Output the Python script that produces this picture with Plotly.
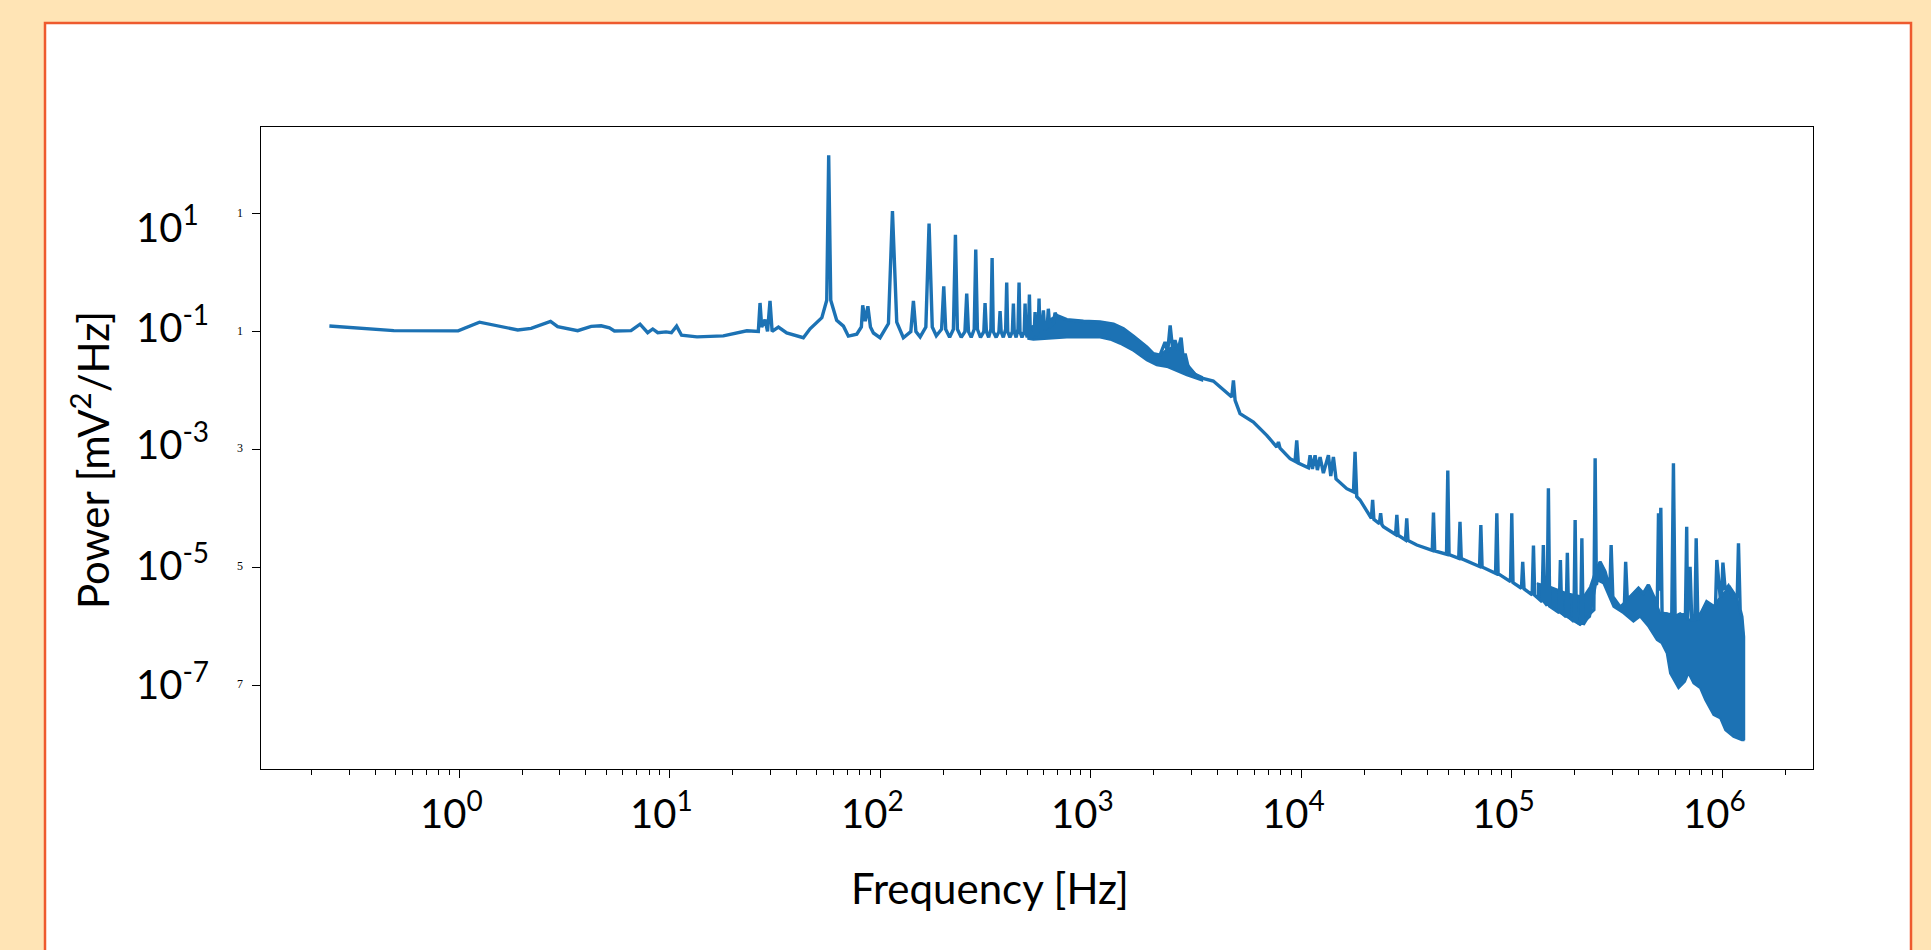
import plotly.graph_objects as go

# ---------------- data (frequency Hz, power mV^2/Hz) ----------------
low_pairs = [(0.242, 0.125), (0.49, 0.104), (0.99, 0.103), (1.25, 0.145), (1.90, 0.107), (2.2, 0.114),
             (2.72, 0.150), (2.94, 0.122), (3.66, 0.104), (4.24, 0.123), (4.73, 0.126), (5.18, 0.116),
             (5.47, 0.103), (6.56, 0.104), (7.24, 0.134), (7.87, 0.096), (8.32, 0.111), (8.79, 0.096),
             (9.62, 0.099), (10.2, 0.096), (10.8, 0.124), (11.4, 0.087), (13.5, 0.0815), (18.0, 0.085),
             (23.3, 0.1035), (26.4, 0.101), (26.9, 0.307), (27.4, 0.120), (28.4, 0.160), (29.2, 0.101),
             (30.0, 0.332), (30.7, 0.101), (32.9, 0.120), (36.0, 0.095), (43.2, 0.079), (46.5, 0.112),
             (52.9, 0.173), (55.8, 0.341), (57.0, 99.0), (58.3, 0.341), (62.2, 0.156), (67.0, 0.124),
             (70.7, 0.084), (77.5, 0.0905), (81.5, 0.12), (82.7, 0.281), (85.0, 0.15), (87.5, 0.27),
             (90.0, 0.12), (93.0, 0.095)]

harmonic_pairs = [(100, 0.079), (109.6, 0.137), (114.5, 11.2), (120, 0.145), (129, 0.079), (140, 0.10),
                  (144, 0.332), (148, 0.10), (155, 0.0815), (165, 0.12), (170.9, 6.82), (177, 0.12),
                  (185, 0.085), (196, 0.11), (200.7, 0.589), (205, 0.11), (214, 0.08), (223, 0.11),
                  (228, 4.43), (233, 0.11), (243, 0.08), (253, 0.10), (258, 0.443), (263, 0.10),
                  (271, 0.08), (280, 0.11), (284.8, 2.47), (290, 0.11), (300, 0.08), (311, 0.10),
                  (315.3, 0.307), (320, 0.10), (328, 0.08), (336, 0.11), (340.6, 1.78), (345, 0.10),
                  (356, 0.08), (367, 0.10), (371.6, 0.224), (376, 0.10), (385, 0.08), (395, 0.11),
                  (399.6, 0.681), (404, 0.10), (414, 0.08), (425, 0.10), (429.9, 0.299), (434, 0.10),
                  (443, 0.08), (452, 0.11), (457.4, 0.681), (462, 0.10), (472, 0.08), (484, 0.10),
                  (488.5, 0.299), (493, 0.10), (500, 0.08), (507, 0.11), (512.2, 0.426), (517, 0.10),
                  (527, 0.08), (540, 0.10), (544.9, 0.216), (550, 0.10), (557, 0.085), (564, 0.11),
                  (569.2, 0.364), (574, 0.11), (585, 0.11), (597, 0.23), (605, 0.11), (622, 0.12),
                  (630, 0.245), (640, 0.12), (668, 0.14), (678, 0.21), (688, 0.19)]

mid_pairs = [(771, 0.160), (925, 0.150), (1109, 0.146), (1285, 0.134), (1432, 0.112), (1600, 0.0836),
             (1849, 0.0550), (1986, 0.0424), (2138, 0.040), (2259, 0.0668), (2323, 0.0447), (2388, 0.128),
             (2455, 0.050), (2518, 0.0714), (2600, 0.0479), (2692, 0.0793), (2754, 0.0355), (2812, 0.0424),
             (2917, 0.024), (3162, 0.0182), (3311, 0.01656), (3828, 0.01455), (4436, 0.00946),
             (4685, 0.00778), (4771, 0.01493), (4860, 0.00684), (5129, 0.00406), (5936, 0.00293),
             (6871, 0.00174), (7668, 0.00110), (7806, 0.00134), (7943, 0.00105), (8865, 0.000698),
             (9365, 0.000631), (9537, 0.00143), (9705, 0.000589), (10834, 0.000490), (11036, 0.000798),
             (11320, 0.000468), (11654, 0.000798), (11955, 0.000447), (12311, 0.000746), (12764, 0.000398),
             (13487, 0.000798), (13836, 0.000355), (14243, 0.000746), (14660, 0.000316), (16482, 0.000216),
             (17742, 0.000191), (18049, 0.000912), (18390, 0.000158), (19055, 0.000139), (20137, 0.0001005),
             (21281, 0.0000723), (21580, 0.000068), (21878, 0.000139), (22180, 0.000065),
             (23550, 0.000055), (23878, 0.0000826), (24210, 0.000053), (24604, 0.0000489),
             (28120, 0.000036), (28510, 0.0000773), (28910, 0.000035),
             (31330, 0.000029), (31769, 0.0000679), (32210, 0.0000285), (35481, 0.0000239),
             (41980, 0.0000193), (42560, 0.0000845), (43150, 0.000019),
             (49090, 0.0000167), (49774, 0.000437), (50470, 0.0000164),
             (56100, 0.0000142), (56885, 0.0000594), (57680, 0.000014),
             (70470, 0.0000103), (71450, 0.0000522), (72440, 0.0000101),
             (83950, 0.0000079), (85114, 0.0000826), (86300, 0.0000078),
             (98850, 0.0000057), (100231, 0.0000826), (101600, 0.0000055),
             (111400, 0.0000044), (112980, 0.0000124), (114600, 0.0000043),
             (125300, 0.0000034), (127060, 0.0000233), (128800, 0.00000335),
             (139600, 0.0000026), (141580, 0.0000239), (143550, 0.00000255),
             (147570, 0.00000225), (149620, 0.000219), (151700, 0.0000022),
             (168300, 0.0000017), (170610, 0.0000133), (173000, 0.00000168),
             (181550, 0.00000145), (184080, 0.0000177), (186650, 0.00000144),
             (197700, 0.0000012), (200450, 0.0000635), (203240, 0.0000012),
             (212800, 0.00000107), (215770, 0.000031), (218800, 0.00000106),
             (236050, 0.00000166), (246000, 0.0000019)]

high_pairs = [(249460, 0.000708), (252900, 0.000005), (263030, 0.0000124), (277970, 0.0000084),
              (293100, 0.0000042), (297170, 0.0000239), (302690, 0.00000316), (327340, 0.00000214),
              (343600, 0.0000023), (348340, 0.0000124), (354810, 0.00000279), (400880, 0.0000044),
              (422670, 0.00000361), (446680, 0.000005), (480840, 0.00000279), (492000, 0.000002),
              (498890, 0.0000826), (505000, 0.000004), (511690, 0.0001026), (518800, 0.00000166),
              (576770, 0.00000155), (587490, 0.000583), (598400, 0.00000145), (669900, 0.0000016),
              (679200, 0.0000489), (685500, 0.00000127), (704700, 0.0000102), (717800, 0.00000127),
              (743000, 0.00000127), (753400, 0.000031), (767400, 0.00000127), (845300, 0.0000026),
              (916200, 0.00000214), (931100, 0.0000023), (944100, 0.0000133), (979500, 0.00000316),
              (995400, 0.0000033), (1009300, 0.000012), (1035000, 0.00000411), (1071500, 0.00000481),
              (1124600, 0.00000316), (1180400, 0.0000032), (1196700, 0.0000255), (1219000, 0.00000188),
              (1241700, 0.00000145), (1264700, 0.00000066), (1264700, 1.16e-8)]

# dense bands (upper / lower envelopes)
bandA_upper = [(501, 0.1175), (603, 0.141), (690, 0.190), (771, 0.160), (925, 0.150), (1109, 0.146),
               (1285, 0.134), (1432, 0.112), (1600, 0.0836), (1849, 0.0550), (1986, 0.0424),
               (2138, 0.0398), (2301, 0.0501), (2512, 0.0562), (2692, 0.0501), (2884, 0.0282),
               (3162, 0.0191), (3388, 0.0170)]
bandA_lower = [(501, 0.0759), (535, 0.0731), (771, 0.0793), (1109, 0.0793), (1239, 0.0731),
               (1380, 0.0625), (1600, 0.0470), (1849, 0.0327), (2061, 0.0269), (2301, 0.0252),
               (2864, 0.0182), (3388, 0.0148)]

bandB_upper = [(131800, 0.00000537), (152400, 0.00000468), (182800, 0.00000363), (219300, 0.00000316),
               (236000, 0.00000468), (254100, 0.0000102), (263030, 0.0000124), (277970, 0.0000084),
               (293800, 0.00000411), (310500, 0.00000245), (327300, 0.00000214), (352400, 0.00000279),
               (379300, 0.00000361), (400900, 0.0000044), (422700, 0.00000361), (446700, 0.000005),
               (480800, 0.00000279), (508200, 0.00000166), (545800, 0.00000166), (587500, 0.00000145),
               (632400, 0.00000166), (704700, 0.00000127), (758600, 0.00000127), (845300, 0.0000026),
               (910000, 0.00000214), (979500, 0.00000316), (1091000, 0.00000468), (1175000, 0.00000316),
               (1241700, 0.00000145), (1264700, 0.00000066)]
bandB_lower = [(131800, 0.0000032), (152400, 0.00000214), (182800, 0.00000145), (211800, 0.00000105),
               (236000, 0.00000145), (254100, 0.00000608), (272900, 0.00000535), (304800, 0.00000214),
               (339600, 0.00000166), (379300, 0.00000119), (407400, 0.00000145), (446700, 0.00000098),
               (489800, 0.000000582), (516400, 0.000000512), (545800, 0.000000346), (566200, 0.000000158),
               (620900, 0.0000000881), (666800, 0.000000114), (691800, 0.000000158), (731100, 0.000000107),
               (787000, 0.0000000881), (831800, 0.0000000557), (910000, 0.000000031), (979500, 0.0000000272),
               (1035000, 0.0000000172), (1132000, 0.0000000132), (1241700, 0.0000000116),
               (1264700, 0.0000000116)]

x_tick_exponents = [0, 1, 2, 3, 4, 5, 6]
y_tick_exponents = [1, -1, -3, -5, -7]
y_tick_stubs = ["1", "1", "3", "5", "7"]
y_label_shift = [-10, 8, 8, 5, 4]

LINE_COLOR = "#1c72b4"
FONT = "Lato"

main_pairs = low_pairs + harmonic_pairs + mid_pairs + high_pairs
main_f = [p[0] for p in main_pairs]
main_p = [p[1] for p in main_pairs]


def band_polygon(upper, lower):
    xs = [u[0] for u in upper] + [l[0] for l in reversed(lower)]
    ys = [u[1] for u in upper] + [l[1] for l in reversed(lower)]
    return xs, ys


fig = go.Figure()
for up, lo in [(bandA_upper, bandA_lower), (bandB_upper, bandB_lower)]:
    bx, by = band_polygon(up, lo)
    fig.add_trace(go.Scatter(x=bx, y=by, mode="lines", fill="toself", fillcolor=LINE_COLOR,
                             line=dict(color=LINE_COLOR, width=2), hoverinfo="skip", showlegend=False))
fig.add_trace(go.Scatter(x=main_f, y=main_p, mode="lines", line=dict(color=LINE_COLOR, width=3.4),
                         showlegend=False))

# plot area: x 261..1813, y 127..769 in a 1931x950 page
L, R, T, B = 261, 1813, 127, 769
W, H = 1931, 950


def px(xp):
    return (xp - L) / (R - L)


def py(yp):
    return (B - yp) / (B - T)


annotations = []
for e, sh in zip(y_tick_exponents, y_label_shift):
    annotations.append(dict(x=px(134), xref="paper", y=e, yref="y", xanchor="left", yanchor="middle",
                            yshift=sh, text="10<sup>%d</sup>" % e, showarrow=False,
                            font=dict(family=FONT, size=40, color="black")))
for e, s in zip(y_tick_exponents, y_tick_stubs):
    annotations.append(dict(x=px(240), xref="paper", y=e, yref="y", xanchor="center", yanchor="middle",
                            yshift=1, text=s, showarrow=False,
                            font=dict(family="Liberation Serif", size=12, color="black")))
for e in x_tick_exponents:
    annotations.append(dict(x=e, xref="x", y=py(781), yref="paper", xanchor="center", yanchor="top",
                            xshift=-8, text="10<sup>%d</sup>" % e, showarrow=False,
                            font=dict(family=FONT, size=40, color="black")))
annotations.append(dict(x=px(990), xref="paper", y=py(888), yref="paper", xanchor="center",
                        yanchor="middle", text="Frequency [Hz]", showarrow=False,
                        font=dict(family=FONT, size=42, color="black")))
annotations.append(dict(x=px(90), xref="paper", y=py(460), yref="paper", xanchor="center",
                        yanchor="middle", text="Power [mV<sup>2</sup>/Hz]", textangle=-90,
                        showarrow=False, font=dict(family=FONT, size=42, color="black")))

fig.update_layout(
    width=W, height=H,
    margin=dict(l=L, r=W - R, t=T, b=H - B, pad=0),
    paper_bgcolor="#FFE4B5",
    plot_bgcolor="white",
    showlegend=False,
    annotations=annotations,
    shapes=[dict(type="rect", xref="paper", yref="paper", x0=px(45), x1=px(1911), y0=py(970), y1=py(23),
                 fillcolor="white", line=dict(color="#EE5A2E", width=2.5), layer="below")],
    xaxis=dict(type="log", range=[-0.941, 6.432], showgrid=False, zeroline=False,
               showline=True, linecolor="black", linewidth=1.4, mirror=True,
               ticks="outside", ticklen=8, tickwidth=1.2, tickcolor="black", dtick=1,
               showticklabels=False,
               minor=dict(ticks="outside", ticklen=5, tickwidth=1, tickcolor="black", dtick="D1",
                          showgrid=False)),
    yaxis=dict(type="log", range=[-8.425, 2.475], showgrid=False, zeroline=False,
               showline=True, linecolor="black", linewidth=1.4, mirror=True,
               ticks="outside", ticklen=8, tickwidth=1.2, tickcolor="black",
               tickmode="array", tickvals=[10.0 ** e for e in y_tick_exponents],
               showticklabels=False),
)

fig.write_html("out.html", config={"displayModeBar": False},
               post_script="document.body.style.margin='0';document.body.style.overflow='hidden';")
